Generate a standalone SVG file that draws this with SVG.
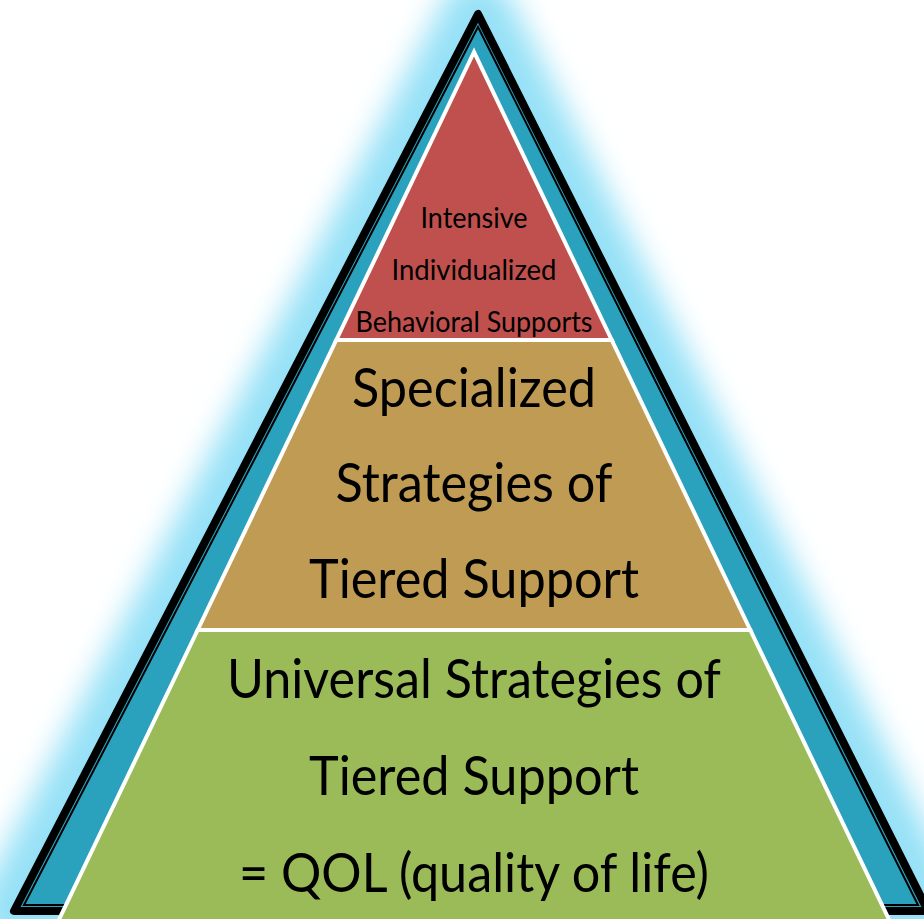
<svg xmlns="http://www.w3.org/2000/svg" width="924" height="919" viewBox="0 0 924 919">
  <style>
    .frame { fill: #2aa1bd; stroke: #000; stroke-width: 8; stroke-linejoin: round; }
    .inset { fill: none; stroke: #000; stroke-width: 2; stroke-linejoin: miter; }
    .tier { stroke: #fff; stroke-width: 4; stroke-linejoin: miter; }
    .lbl { font-family: Lato, "Open Sans", sans-serif; fill: #000; text-anchor: middle; }
    .sm { font-size: 29px; }
    .lg { font-size: 55px; }
  </style>
  <defs>
    <filter id="glow" x="-25%" y="-25%" width="150%" height="150%">
      <feGaussianBlur stdDeviation="15"/>
    </filter>
  </defs>
  <rect width="924" height="919" fill="#fff"/>

  <!-- soft halo around the frame -->
  <polygon points="478,14 14,911 928,911" fill="#96e1f7" stroke="#96e1f7" stroke-width="72" stroke-linejoin="round" filter="url(#glow)"/>

  <!-- outer frame -->
  <g id="frame">
    <polygon class="frame" points="478,14 14,911 928,911"/>
    <polygon class="inset" points="478,27 24,905 918,905"/>
  </g>

  <!-- tiers -->
  <g id="tier-top">
    <polygon class="tier" fill="#c0504d" points="474,52 336.3,340 611.7,340"/>
    <text class="lbl sm" x="474" y="228" textLength="107" lengthAdjust="spacingAndGlyphs">Intensive</text>
    <text class="lbl sm" x="474" y="280" textLength="165" lengthAdjust="spacingAndGlyphs">Individualized</text>
    <text class="lbl sm" x="474" y="332" textLength="237" lengthAdjust="spacingAndGlyphs">Behavioral Supports</text>
  </g>
  <g id="tier-middle">
    <polygon class="tier" fill="#bf9b53" points="336.3,340 611.7,340 750.3,630 197.7,630"/>
    <text class="lbl lg" x="474" y="407" textLength="244" lengthAdjust="spacingAndGlyphs">Specialized</text>
    <text class="lbl lg" x="474" y="502" textLength="277" lengthAdjust="spacingAndGlyphs">Strategies of</text>
    <text class="lbl lg" x="474" y="598" textLength="330" lengthAdjust="spacingAndGlyphs">Tiered Support</text>
  </g>
  <g id="tier-base">
    <polygon class="tier" fill="#9bbb59" points="197.7,630 750.3,630 894,930 54,930"/>
    <text class="lbl lg" x="474" y="698" textLength="494" lengthAdjust="spacingAndGlyphs">Universal Strategies of</text>
    <text class="lbl lg" x="474" y="795" textLength="330" lengthAdjust="spacingAndGlyphs">Tiered Support</text>
    <text class="lbl lg" x="474" y="892" textLength="470" lengthAdjust="spacingAndGlyphs">= QOL (quality of life)</text>
  </g>

  <g id="connectors"/>
</svg>
